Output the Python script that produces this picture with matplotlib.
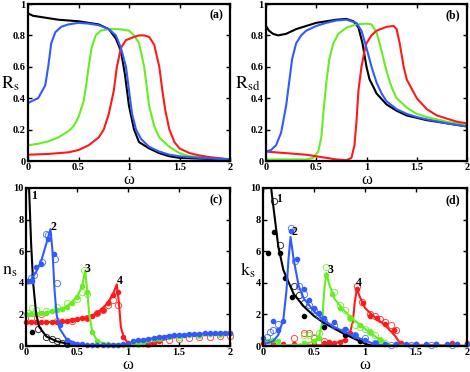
import matplotlib
matplotlib.use("Agg")
import matplotlib.pyplot as plt

plt.rcParams['font.family'] = ['Liberation Serif', 'DejaVu Serif']
plt.rcParams['mathtext.fontset'] = 'stix'

BLACK = '#000000'
BLUE = '#2f5bff'
GREEN = '#66ee22'
RED = '#ff1a1a'

# ---------------- Panel (a): Rs ----------------
a_black_x = [0, 0.05, 0.1, 0.2, 0.3, 0.4, 0.5, 0.6, 0.7, 0.8, 0.87, 0.92, 0.96, 1.0, 1.05, 1.1, 1.2, 1.3, 1.4, 1.5, 1.7, 2.0]
a_black_y = [0.94, 0.925, 0.92, 0.91, 0.90, 0.895, 0.89, 0.88, 0.87, 0.84, 0.78, 0.70, 0.55, 0.35, 0.20, 0.12, 0.08, 0.05, 0.03, 0.02, 0.015, 0.01]
a_blue_x = [0, 0.1, 0.17, 0.2, 0.23, 0.27, 0.33, 0.4, 0.5, 0.6, 0.7, 0.8, 0.87, 0.92, 0.97, 1.0, 1.03, 1.07, 1.12, 1.2, 1.3, 1.4, 1.5, 1.7, 2.0]
a_blue_y = [0.37, 0.40, 0.48, 0.60, 0.75, 0.82, 0.855, 0.87, 0.88, 0.875, 0.865, 0.84, 0.80, 0.72, 0.60, 0.45, 0.30, 0.20, 0.14, 0.09, 0.06, 0.04, 0.03, 0.02, 0.01]
a_green_x = [0, 0.1, 0.2, 0.3, 0.4, 0.45, 0.5, 0.55, 0.58, 0.6, 0.63, 0.67, 0.72, 0.8, 0.9, 1.0, 1.05, 1.1, 1.15, 1.18, 1.2, 1.25, 1.3, 1.4, 1.5, 1.6, 1.8, 2.0]
a_green_y = [0.10, 0.11, 0.125, 0.15, 0.19, 0.22, 0.28, 0.38, 0.50, 0.60, 0.72, 0.80, 0.83, 0.84, 0.84, 0.83, 0.80, 0.75, 0.60, 0.45, 0.35, 0.22, 0.15, 0.09, 0.05, 0.03, 0.02, 0.01]
a_red_x = [0, 0.2, 0.4, 0.5, 0.6, 0.7, 0.75, 0.8, 0.85, 0.88, 0.92, 0.97, 1.05, 1.1, 1.15, 1.2, 1.25, 1.3, 1.33, 1.36, 1.4, 1.45, 1.5, 1.6, 1.7, 1.8, 2.0]
a_red_y = [0.04, 0.045, 0.055, 0.07, 0.10, 0.15, 0.20, 0.30, 0.45, 0.60, 0.72, 0.77, 0.79, 0.80, 0.80, 0.79, 0.74, 0.60, 0.45, 0.32, 0.20, 0.12, 0.08, 0.05, 0.035, 0.025, 0.01]

# ---------------- Panel (b): Rsd ----------------
b_black_x = [0, 0.03, 0.07, 0.12, 0.2, 0.3, 0.4, 0.5, 0.6, 0.7, 0.8, 0.87, 0.92, 0.96, 1.0, 1.03, 1.07, 1.1, 1.2, 1.3, 1.4, 1.5, 1.6, 1.8, 2.0]
b_black_y = [0.86, 0.83, 0.81, 0.80, 0.81, 0.84, 0.86, 0.88, 0.89, 0.90, 0.905, 0.89, 0.85, 0.75, 0.60, 0.52, 0.47, 0.43, 0.36, 0.32, 0.29, 0.275, 0.26, 0.24, 0.22]
b_blue_x = [0, 0.05, 0.1, 0.15, 0.2, 0.23, 0.26, 0.3, 0.35, 0.4, 0.5, 0.6, 0.7, 0.8, 0.9, 0.95, 1.0, 1.05, 1.1, 1.15, 1.2, 1.3, 1.4, 1.5, 1.6, 1.8, 2.0]
b_blue_y = [0.06, 0.07, 0.10, 0.18, 0.35, 0.50, 0.65, 0.75, 0.80, 0.83, 0.86, 0.88, 0.895, 0.90, 0.88, 0.83, 0.72, 0.60, 0.50, 0.43, 0.38, 0.33, 0.30, 0.28, 0.265, 0.24, 0.22]
b_green_x = [0, 0.2, 0.4, 0.47, 0.52, 0.55, 0.57, 0.6, 0.63, 0.67, 0.72, 0.8, 0.9, 1.0, 1.05, 1.1, 1.15, 1.2, 1.25, 1.3, 1.4, 1.5, 1.6, 1.8, 2.0]
b_green_y = [0.01, 0.01, 0.01, 0.02, 0.06, 0.15, 0.30, 0.50, 0.65, 0.75, 0.81, 0.85, 0.87, 0.875, 0.87, 0.82, 0.70, 0.57, 0.47, 0.40, 0.34, 0.30, 0.28, 0.25, 0.23]
b_red_x = [0, 0.2, 0.4, 0.6, 0.7, 0.8, 0.85, 0.88, 0.9, 0.92, 0.95, 0.98, 1.0, 1.05, 1.1, 1.2, 1.27, 1.3, 1.33, 1.37, 1.4, 1.5, 1.6, 1.7, 1.8, 1.9, 2.0]
b_red_y = [0.06, 0.05, 0.04, 0.02, 0.01, 0.005, 0.02, 0.10, 0.25, 0.45, 0.60, 0.70, 0.75, 0.80, 0.83, 0.855, 0.86, 0.84, 0.75, 0.60, 0.52, 0.40, 0.33, 0.29, 0.27, 0.25, 0.24]

# ---------------- Panel (c): ns ----------------
c_black_x = [0.03, 0.05, 0.07, 0.1, 0.13, 0.2, 0.3, 0.4, 0.5, 0.6]
c_black_y = [10.0, 6.5, 4.0, 2.0, 1.2, 0.6, 0.3, 0.15, 0.05, 0.02]
c_blue_x = [0, 0.05, 0.1, 0.15, 0.2, 0.24, 0.26, 0.28, 0.3, 0.33, 0.4, 0.5, 0.6, 0.8, 1.0, 1.05, 1.2, 1.4, 1.6, 1.8, 2.0]
c_blue_y = [4.1, 4.2, 4.7, 5.4, 6.5, 7.4, 6.0, 3.5, 2.0, 1.1, 0.4, 0.15, 0.05, 0.05, 0.1, 0.3, 0.45, 0.65, 0.75, 0.8, 0.85]
c_green_x = [0, 0.2, 0.3, 0.4, 0.5, 0.55, 0.58, 0.6, 0.62, 0.65, 0.7, 0.8, 1.0, 1.1, 1.2, 1.4, 1.6, 2.0]
c_green_y = [2.0, 2.1, 2.25, 2.5, 3.1, 3.8, 4.75, 3.5, 2.0, 0.9, 0.3, 0.1, 0.05, 0.15, 0.35, 0.6, 0.7, 0.8]
c_red_x = [0, 0.2, 0.4, 0.6, 0.7, 0.8, 0.86, 0.89, 0.91, 0.93, 0.96, 1.0, 1.1, 1.2, 1.3, 1.4, 1.6, 2.0]
c_red_y = [1.5, 1.5, 1.6, 1.8, 2.1, 2.7, 3.4, 3.9, 2.8, 1.2, 0.5, 0.2, 0.1, 0.15, 0.3, 0.5, 0.65, 0.75]

c_black_dot_x = [0.06]
c_black_dot_y = [0.9]
c_black_circ_x = [0.12, 0.2, 0.25, 0.3, 0.35, 0.4]
c_black_circ_y = [1.1, 0.6, 0.45, 0.3, 0.2, 0.1]
c_blue_dot_x = [0.02, 0.06, 0.1, 0.15, 0.22, 0.27, 0.33, 0.4, 0.45, 0.5, 0.55, 0.6, 0.65, 0.7, 0.75, 0.8, 0.85, 0.9, 0.95, 1.0, 1.05, 1.1, 1.15, 1.2, 1.25, 1.3, 1.35, 1.4, 1.45, 1.5, 1.55, 1.6, 1.65, 1.7, 1.75, 1.8, 1.85, 1.9, 1.95, 2.0]
c_blue_dot_y = [4.1, 4.1, 5.0, 5.2, 6.8, 5.8, 1.3, 0.35, 0.2, 0.15, 0.1, 0.08, 0.07, 0.06, 0.06, 0.06, 0.07, 0.08, 0.1, 0.15, 0.3, 0.35, 0.4, 0.45, 0.5, 0.55, 0.6, 0.65, 0.68, 0.7, 0.72, 0.75, 0.77, 0.78, 0.8, 0.8, 0.82, 0.83, 0.84, 0.85]
c_blue_circ_x = [0.05, 0.08, 0.16, 0.2, 0.22, 0.28, 0.3]
c_blue_circ_y = [4.3, 4.5, 5.3, 7.1, 7.0, 5.5, 4.0]
c_green_dot_x = [0, 0.05, 0.1, 0.15, 0.2, 0.25, 0.3, 0.35, 0.4, 0.45, 0.5, 0.55, 0.6, 0.65, 0.7, 0.75, 0.8, 0.85, 0.9, 0.95, 1.0, 1.05, 1.1, 1.15, 1.2, 1.25, 1.3, 1.4, 1.5, 1.6, 1.7, 1.8, 1.9, 2.0]
c_green_dot_y = [2.0, 2.0, 2.05, 2.1, 2.1, 2.2, 2.25, 2.35, 2.5, 2.7, 3.1, 3.8, 3.4, 0.9, 0.3, 0.15, 0.1, 0.08, 0.06, 0.05, 0.05, 0.1, 0.15, 0.25, 0.35, 0.45, 0.5, 0.6, 0.65, 0.7, 0.72, 0.75, 0.78, 0.8]
c_green_circ_x = [0.02, 0.06, 0.1, 0.2, 0.3, 0.4, 0.5, 0.55, 0.57, 0.6, 1.1, 1.3, 1.5, 1.7, 1.9]
c_green_circ_y = [2.1, 2.4, 2.3, 2.2, 2.5, 2.7, 3.0, 3.4, 4.8, 3.3, 0.15, 0.5, 0.6, 0.7, 0.75]
c_red_dot_x = [0, 0.05, 0.1, 0.15, 0.2, 0.25, 0.3, 0.35, 0.4, 0.45, 0.5, 0.55, 0.6, 0.65, 0.7, 0.75, 0.8, 0.85, 0.9, 0.95, 1.0, 1.05, 1.1, 1.15, 1.2, 1.25, 1.3]
c_red_dot_y = [1.5, 1.5, 1.5, 1.5, 1.5, 1.55, 1.55, 1.6, 1.6, 1.65, 1.7, 1.75, 1.8, 1.9, 2.1, 2.3, 2.7, 3.2, 3.4, 0.6, 0.2, 0.15, 0.1, 0.12, 0.15, 0.2, 0.3]
c_red_circ_x = [0.05, 0.15, 0.3, 0.45, 0.6, 0.7, 0.75, 0.8, 0.85, 0.9, 1.2, 1.3, 1.4, 1.5, 1.6, 1.7, 1.8, 1.9, 2.0]
c_red_circ_y = [1.8, 2.0, 1.6, 1.6, 1.8, 2.1, 2.3, 2.6, 2.9, 2.6, 0.1, 0.2, 0.35, 0.45, 0.5, 0.55, 0.6, 0.62, 0.65]

# ---------------- Panel (d): ks ----------------
d_black_x = [0.08, 0.1, 0.15, 0.2, 0.3, 0.4, 0.5, 0.6, 0.7, 0.8, 0.9, 1.0, 1.05, 1.1, 2.0]
d_black_y = [10.0, 8.9, 6.3, 4.8, 3.3, 2.5, 1.9, 1.45, 1.1, 0.75, 0.45, 0.15, 0.05, 0.0, 0.0]
d_blue_x = [0, 0.1, 0.15, 0.2, 0.23, 0.25, 0.27, 0.3, 0.35, 0.4, 0.5, 0.6, 0.7, 0.8, 0.9, 1.0, 1.1, 1.2, 2.0]
d_blue_y = [0.1, 0.3, 0.7, 1.7, 3.5, 5.5, 6.9, 5.5, 3.8, 3.0, 2.2, 1.6, 1.2, 0.9, 0.6, 0.35, 0.1, 0.02, 0.0]
d_green_x = [0, 0.4, 0.5, 0.55, 0.58, 0.6, 0.62, 0.65, 0.7, 0.8, 0.9, 1.0, 1.1, 1.2, 1.25, 2.0]
d_green_y = [0.0, 0.1, 0.3, 0.6, 1.5, 3.5, 4.6, 3.9, 3.0, 2.2, 1.6, 1.1, 0.6, 0.2, 0.05, 0.0]
d_red_x = [0, 0.6, 0.7, 0.8, 0.85, 0.88, 0.9, 0.92, 0.95, 1.0, 1.1, 1.2, 1.3, 1.35, 2.0]
d_red_y = [0.0, 0.05, 0.15, 0.4, 0.8, 1.5, 2.8, 3.6, 3.1, 2.4, 1.8, 1.3, 0.6, 0.1, 0.0]

d_black_dot_x = [0.05, 0.11, 0.17, 0.22, 0.28, 0.4, 0.6, 0.8, 0.95]
d_black_dot_y = [5.9, 7.2, 5.9, 4.3, 3.1, 1.9, 1.2, 0.7, 0.3]
d_black_circ_x = [0.11, 0.17, 0.3, 0.35, 0.4]
d_black_circ_y = [9.2, 6.4, 3.8, 3.2, 2.7]
d_blue_dot_x = [0.0, 0.1, 0.15, 0.2, 0.27, 0.33, 0.4, 0.45, 0.5, 0.55, 0.6, 0.7, 0.8, 0.9, 1.0, 1.1, 1.2, 1.3, 1.4, 1.5, 1.6, 1.7, 1.8, 1.9, 2.0]
d_blue_dot_y = [0.5, 1.6, 1.0, 1.6, 7.3, 5.5, 3.6, 2.9, 2.4, 2.1, 1.8, 1.5, 1.1, 0.7, 0.4, 0.2, 0.1, 0.1, 0.1, 0.1, 0.1, 0.1, 0.1, 0.1, 0.1]
d_blue_circ_x = [0.04, 0.07, 0.1, 0.15, 0.27, 0.31, 0.35, 0.4, 0.45, 0.5, 0.55, 0.6, 0.7, 0.8, 0.9, 1.0, 1.1, 1.25, 1.45, 1.65, 1.85]
d_blue_circ_y = [0.6, 0.9, 1.0, 1.4, 7.5, 5.4, 3.8, 3.3, 2.6, 2.3, 1.9, 1.6, 1.3, 1.0, 0.7, 0.5, 0.2, 0.05, 0.05, 0.05, 0.05]
d_green_dot_x = [0.05, 0.1, 0.15, 0.4, 0.5, 0.55, 0.62, 0.68, 0.75, 0.85, 0.95, 1.05, 1.15, 1.3, 1.5, 1.7, 1.9, 2.0]
d_green_dot_y = [0.3, 0.35, 0.3, 0.2, 0.3, 0.5, 4.5, 3.3, 2.4, 1.8, 1.3, 0.9, 0.4, 0.15, 0.15, 0.15, 0.15, 0.15]
d_green_circ_x = [0.4, 0.45, 0.5, 0.55, 0.62, 0.7, 0.75, 0.8, 0.85, 0.9, 0.95, 1.0, 1.05, 1.1, 1.15, 1.2]
d_green_circ_y = [0.7, 0.7, 0.6, 0.8, 5.0, 3.4, 2.6, 2.3, 1.8, 1.3, 1.2, 1.1, 0.9, 0.7, 0.4, 0.2]
d_red_dot_x = [0.0, 0.1, 0.2, 0.3, 0.4, 0.5, 0.6, 0.65, 0.7, 0.75, 0.8, 0.85, 0.92, 0.98, 1.05, 1.12, 1.2, 1.28, 1.35, 1.5, 1.7, 1.85, 2.0]
d_red_dot_y = [0.2, 0.15, 0.1, 0.1, 0.1, 0.1, 0.2, 0.25, 0.2, 0.25, 0.4, 0.8, 3.6, 2.7, 1.9, 1.8, 1.4, 1.0, 0.2, 0.1, 0.1, 0.2, 0.2]
d_red_circ_x = [0.05, 0.3, 0.4, 0.45, 0.5, 0.6, 0.92, 0.97, 1.05, 1.1, 1.15, 1.2, 1.25, 1.3]
d_red_circ_y = [0.2, 0.5, 0.8, 0.8, 0.5, 0.3, 3.8, 2.8, 2.0, 1.9, 1.7, 1.5, 1.3, 1.0]

x_ticks = [0, 0.5, 1, 1.5, 2]
x_ticklabels = ['0', '0.5', '1', '1.5', '2']
r_ticks = [0, 0.2, 0.4, 0.6, 0.8, 1]
r_ticklabels = ['0', '0.2', '0.4', '0.6', '0.8', '1']
nk_ticks = [0, 2, 4, 6, 8, 10]
nk_ticklabels = ['0', '2', '4', '6', '8', '10']

fig = plt.figure(figsize=(4.70, 3.72), dpi=100)
W, H = 470.0, 372.0

def mk_ax(l, t, r, b):
    ax = fig.add_axes([l / W, 1 - b / H, (r - l) / W, (b - t) / H])
    ax.patch.set_alpha(0)
    return ax

ax_a = mk_ax(28, 4, 230, 161)
ax_b = mk_ax(266, 4, 467, 161)
ax_c = mk_ax(26, 188, 230, 346)
ax_d = mk_ax(263, 188, 467, 346)

def style(ax, yt, ytl, ylim, ylabel, tag, ylx, yly):
    ax.set_xlim(0, 2)
    ax.set_ylim(*ylim)
    ax.set_xticks(x_ticks)
    ax.set_xticklabels(x_ticklabels)
    ax.set_yticks(yt)
    ax.set_yticklabels(ytl)
    ax.tick_params(direction='in', top=True, right=True, length=3, width=1,
                   labelsize=7.5, pad=1.5)
    for lab in ax.get_xticklabels() + ax.get_yticklabels():
        lab.set_fontweight('bold')
    for s in ax.spines.values():
        s.set_linewidth(1.6)
    ax.set_xlabel('ω', fontsize=12, va='top')
    ax.xaxis.set_label_coords(0.5, -0.072)
    ax.set_ylabel(ylabel, fontsize=13, rotation=0, ha='left', va='center')
    ax.yaxis.set_label_coords(ylx, yly)
    ax.text(0.965, 0.925, tag, transform=ax.transAxes, ha='right', va='center',
            fontsize=8.5, fontweight='bold')

lw = 1.5
ax_a.plot(a_black_x, a_black_y, color=BLACK, lw=lw)
ax_a.plot(a_green_x, a_green_y, color=GREEN, lw=lw)
ax_a.plot(a_red_x, a_red_y, color=RED, lw=lw)
ax_a.plot(a_blue_x, a_blue_y, color=BLUE, lw=lw)
style(ax_a, r_ticks, r_ticklabels, (0, 1), r'$\mathrm{R_s}$', '(a)', -0.135, 0.49)

ax_b.plot(b_black_x, b_black_y, color=BLACK, lw=lw)
ax_b.plot(b_green_x, b_green_y, color=GREEN, lw=lw)
ax_b.plot(b_red_x, b_red_y, color=RED, lw=lw)
ax_b.plot(b_blue_x, b_blue_y, color=BLUE, lw=lw)
style(ax_b, r_ticks, r_ticklabels, (0, 1), r'$\mathrm{R_{sd}}$', '(b)', -0.154, 0.49)

def markers(ax, dx, dy, cx, cy, color):
    ax.plot(cx, cy, 'o', ms=4.5, mfc='none', mec=color, mew=0.7, alpha=0.8, clip_on=False)
    ax.plot(dx, dy, 'o', ms=3, color=color, mec=color, clip_on=False)

for (lx, ly, dx, dy, cx, cy, col) in [
        (c_red_x, c_red_y, c_red_dot_x, c_red_dot_y, c_red_circ_x, c_red_circ_y, RED),
        (c_green_x, c_green_y, c_green_dot_x, c_green_dot_y, c_green_circ_x, c_green_circ_y, GREEN),
        (c_black_x, c_black_y, c_black_dot_x, c_black_dot_y, c_black_circ_x, c_black_circ_y, BLACK),
        (c_blue_x, c_blue_y, c_blue_dot_x, c_blue_dot_y, c_blue_circ_x, c_blue_circ_y, BLUE)]:
    ax_c.plot(lx, ly, color=col, lw=lw)
    markers(ax_c, dx, dy, cx, cy, col)
style(ax_c, nk_ticks, nk_ticklabels, (0, 10), r'$\mathrm{n_s}$', '(c)', -0.118, 0.475)

for (lx, ly, dx, dy, cx, cy, col) in [
        (d_red_x, d_red_y, d_red_dot_x, d_red_dot_y, d_red_circ_x, d_red_circ_y, RED),
        (d_green_x, d_green_y, d_green_dot_x, d_green_dot_y, d_green_circ_x, d_green_circ_y, GREEN),
        (d_black_x, d_black_y, d_black_dot_x, d_black_dot_y, d_black_circ_x, d_black_circ_y, BLACK),
        (d_blue_x, d_blue_y, d_blue_dot_x, d_blue_dot_y, d_blue_circ_x, d_blue_circ_y, BLUE)]:
    ax_d.plot(lx, ly, color=col, lw=lw)
    markers(ax_d, dx, dy, cx, cy, col)
style(ax_d, nk_ticks, nk_ticklabels, (0, 10), r'$\mathrm{k_s}$', '(d)', -0.113, 0.48)

for ax, pts in [(ax_c, [(0.08, 9.5, '1'), (0.27, 7.5, '2'), (0.6, 4.9, '3'), (0.92, 4.1, '4')]),
                (ax_d, [(0.16, 9.3, '1'), (0.31, 7.2, '2'), (0.66, 4.8, '3'), (0.94, 4.0, '4')])]:
    for x, y, s in pts:
        ax.text(x, y, s, fontsize=8.5, fontweight='bold', ha='center', va='center')

fig.savefig('out.png', dpi=100)
